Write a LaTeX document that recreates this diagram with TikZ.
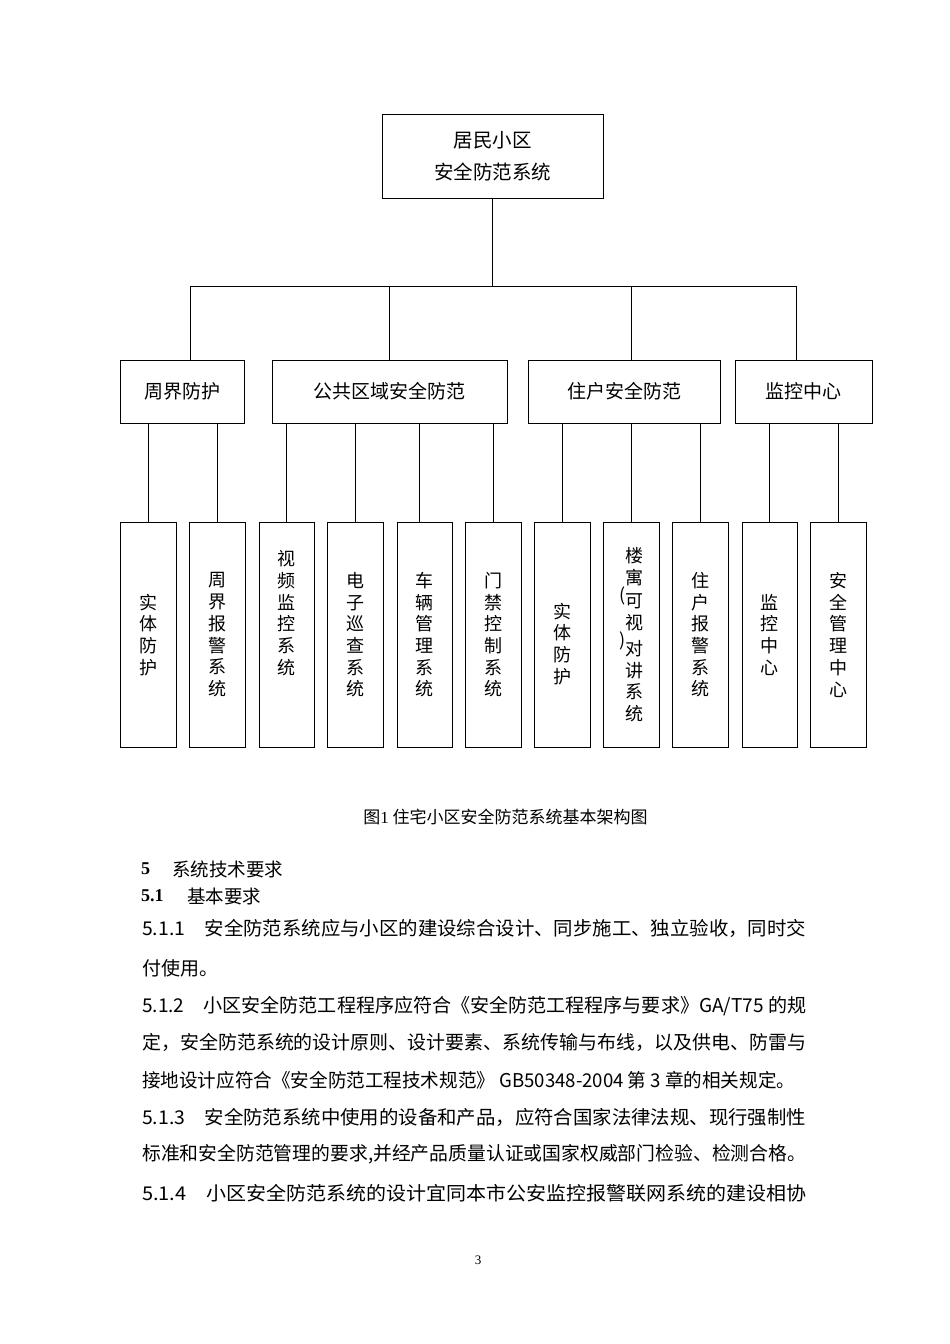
\documentclass[tikz,border=0pt]{standalone}
\usepackage{graphicx}
\usepackage{fontspec}
\setmainfont{Liberation Serif}
\newfontfamily\cjk{Noto Sans CJK SC}
\newcommand{\fitline}[2]{\resizebox{#1}{\height}{#2}}
\begin{document}
\begin{tikzpicture}[x=1pt,y=-1pt,
 box/.style={draw,line width=1pt,inner sep=0pt,rectangle},
 topbox/.style={box,minimum width=221pt,minimum height=84pt,align=center,font=\cjk\fontsize{19.5}{32}\selectfont},
 midbox/.style={box,minimum height=63pt,font=\cjk\fontsize{19}{22}\selectfont},
 botbox/.style={box,minimum width=55.5pt,minimum height=224.5pt},
 vtext/.style={font=\cjk\fontsize{18}{21.7}\selectfont,align=center,inner sep=0pt},
 link/.style={line width=0.8pt},
 bodyline/.style={anchor=west,inner sep=0pt,font=\cjk\fontsize{19}{22}\selectfont},
 head/.style={anchor=west,inner sep=0pt}]
\useasboundingbox[fill=white] (0,0) rectangle (950,1344);

% top
\node[topbox] (top) at (492.5,156) {居民小区\\安全防范系统};

% middle level
\node[midbox,minimum width=124pt] (m1) at (182.5,391.5) {周界防护};
\node[midbox,minimum width=235pt] (m2) at (389.5,391.5) {公共区域安全防范};
\node[midbox,minimum width=191.5pt] (m3) at (624.25,391.5) {住户安全防范};
\node[midbox,minimum width=137pt] (m4) at (803.5,391.5) {监控中心};

% bottom level
\node[botbox] (b1) at (148.5,634.75) {};
\node[botbox] (b2) at (217.25,634.75) {};
\node[botbox] (b3) at (286.75,634.75) {};
\node[botbox] (b4) at (355.5,634.75) {};
\node[botbox] (b5) at (424.75,634.75) {};
\node[botbox] (b6) at (493.5,634.75) {};
\node[botbox] (b7) at (562.25,634.75) {};
\node[botbox] (b8) at (631.25,634.75) {};
\node[botbox] (b9) at (700.25,634.75) {};
\node[botbox] (b10) at (769.75,634.75) {};
\node[botbox] (b11) at (838.5,634.75) {};

\node[vtext] (t1) at (b1.center) {实\\体\\防\\护};
\node[vtext] (t2) at (b2.center) {周\\界\\报\\警\\系\\统};
\node[vtext] (t3) at ([yshift=21.5pt]b3.center) {视\\频\\监\\控\\系\\统};
\node[vtext] (t4) at (b4.center) {电\\子\\巡\\查\\系\\统};
\node[vtext] (t5) at (b5.center) {车\\辆\\管\\理\\系\\统};
\node[vtext] (t6) at (b6.center) {门\\禁\\控\\制\\系\\统};
\node[vtext] (t7) at ([yshift=-9pt]b7.center) {实\\体\\防\\护};
\node[vtext] (t8) at ([xshift=3pt]b8.center) {楼\\寓\\\llap{\raisebox{6pt}{(}}可\\视\\\llap{\raisebox{9pt}{)}}对\\讲\\系\\统};
\node[vtext] (t9) at (b9.center) {住\\户\\报\\警\\系\\统};
\node[vtext] (t10) at (b10.center) {监\\控\\中\\心};
\node[vtext] (t11) at (b11.center) {安\\全\\管\\理\\中\\心};

% connectors top -> bar
\coordinate (j1) at (190,286);
\coordinate (j2) at (389.5,286);
\coordinate (j3) at (631,286);
\coordinate (j4) at (796.5,286);
\draw[link] (top.south) -- (top.south |- j1);
\draw[link] (j1) -- (j4);
\draw[link] (j1) -- (j1 |- m1.north);
\draw[link] (j2) -- (j2 |- m2.north);
\draw[link] (j3) -- (j3 |- m3.north);
\draw[link] (j4) -- (j4 |- m4.north);

% connectors middle -> bottom
\draw[link] (b1.north) -- (b1.north |- m1.south);
\draw[link] (b2.north) -- (b2.north |- m1.south);
\draw[link] (b3.north) -- (b3.north |- m2.south);
\draw[link] (b4.north) -- (b4.north |- m2.south);
\draw[link] ([xshift=-5pt]b5.north) -- ([xshift=-5pt]b5.north |- m2.south);
\draw[link] (b6.north) -- (b6.north |- m2.south);
\draw[link] (b7.north) -- (b7.north |- m3.south);
\draw[link] (b8.north) -- (b8.north |- m3.south);
\draw[link] (b9.north) -- (b9.north |- m3.south);
\draw[link] (b10.north) -- (b10.north |- m4.south);
\draw[link] (b11.north) -- (b11.north |- m4.south);

% caption
\node[font=\cjk\fontsize{17}{20}\selectfont] (cap) at (505.5,817) {图{\rmfamily 1} 住宅小区安全防范系统基本架构图};

% headings
\node[head,font=\bfseries\fontsize{18}{20}\selectfont] (h5) at (141,869) {5};
\node[head,font=\cjk\fontsize{18.5}{20}\selectfont] (h5t) at (172,869) {系统技术要求};
\node[head,font=\bfseries\fontsize{18}{20}\selectfont] (h51) at (141,896) {5.1};
\node[head,font=\cjk\fontsize{18.5}{20}\selectfont] (h51t) at (187,896) {基本要求};

% body
\node[bodyline] (l1) at (142,928) {\fitline{664pt}{5.1.1\hspace{1em}安全防范系统应与小区的建设综合设计、同步施工、独立验收，同时交}};
\node[bodyline] (l2) at (142,968) {付使用。};
\node[bodyline] (l3) at (142,1006) {\fitline{664pt}{5.1.2\hspace{1em}小区安全防范工程程序应符合《安全防范工程程序与要求》GA/T75 的规}};
\node[bodyline] (l4) at (142,1042) {\fitline{664pt}{定，安全防范系统的设计原则、设计要素、系统传输与布线，以及供电、防雷与}};
\node[bodyline] (l5) at (142,1080) {\fitline{653pt}{接地设计应符合《安全防范工程技术规范》 GB50348-2004 第 3 章的相关规定。}};
\node[bodyline] (l6) at (142,1117) {\fitline{664pt}{5.1.3\hspace{1em}安全防范系统中使用的设备和产品，应符合国家法律法规、现行强制性}};
\node[bodyline] (l7) at (142,1154) {\fitline{664pt}{标准和安全防范管理的要求,并经产品质量认证或国家权威部门检验、检测合格。}};
\node[bodyline] (l8) at (142,1193) {\fitline{664pt}{5.1.4\hspace{1em}小区安全防范系统的设计宜同本市公安监控报警联网系统的建设相协}};

% page number
\node[font=\fontsize{13}{15}\selectfont] (pg) at (478,1260) {3};
\end{tikzpicture}
\end{document}
